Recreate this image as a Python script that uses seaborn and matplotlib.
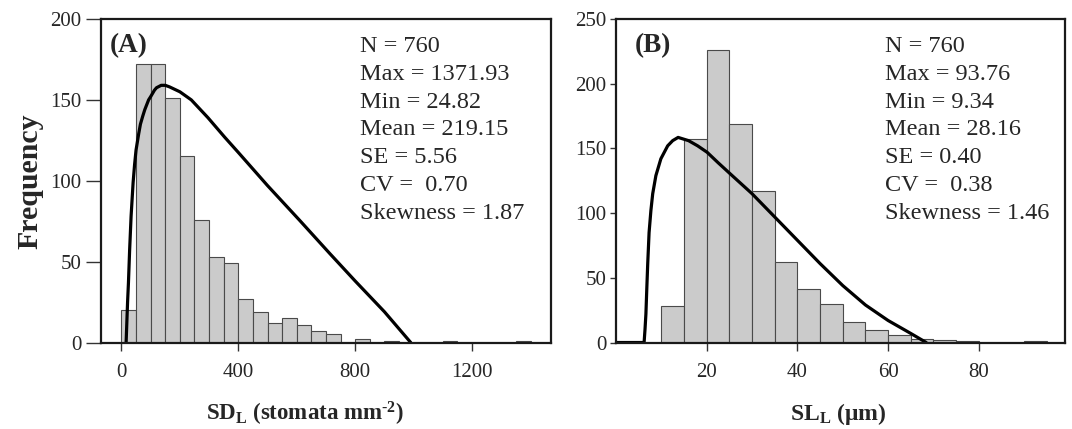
import matplotlib
matplotlib.use("Agg")
import matplotlib.pyplot as plt
import seaborn as sns
import numpy as np

# ---------------- data ----------------
# Panel A: SD_L histogram (bin width 50)
sd_bin_edges = list(range(0, 1450, 50))
sd_counts = [20, 172, 172, 151, 115, 76, 53, 49, 27, 19, 12, 15, 11, 7, 5,
             0, 2, 0, 1, 0, 0, 0, 1, 0, 0, 0, 0, 1]
sd_curve_x = [16, 18, 21, 24, 28, 33, 40, 45, 50, 59, 65, 73, 80, 93, 100,
              113, 120, 136, 150, 165, 200, 239, 296, 353, 400, 500, 610,
              713, 800, 900, 990]
sd_curve_y = [0, 10, 25, 37, 57, 78, 99, 110, 119, 129, 135, 140, 144, 150,
              152, 156, 157.5, 159, 159, 158, 155, 150, 139, 127, 117.5, 97,
              75.5, 55, 38, 19, 0]
sd_stats = ["N = 760", "Max = 1371.93", "Min = 24.82", "Mean = 219.15",
            "SE = 5.56", "CV =  0.70", "Skewness = 1.87"]
sd_xticks = [0, 400, 800, 1200]
sd_yticks = [0, 50, 100, 150, 200]

# Panel B: SL_L histogram (bin width 5)
sl_bin_edges = list(range(0, 100, 5))
sl_counts = [0, 0, 28, 157, 226, 169, 117, 62, 41, 30, 16, 10, 6, 3, 2, 1,
             0, 0, 1]
sl_curve_x = [0, 6.2, 6.4, 6.6, 6.8, 7.0, 7.3, 7.7, 8.1, 8.8, 9.9, 11.4,
              12.5, 13.7, 16, 18, 20.1, 22.5, 25.3, 30, 35, 40, 45, 50, 55,
              60, 65, 68.4]
sl_curve_y = [0, 0, 10, 22, 42, 61, 85, 102, 115, 129, 142, 152, 156,
              158.5, 156, 152, 147, 139, 130, 115, 97, 79, 61, 44, 29, 17,
              7, 0]
sl_stats = ["N = 760", "Max = 93.76", "Min = 9.34", "Mean = 28.16",
            "SE = 0.40", "CV =  0.38", "Skewness = 1.46"]
sl_xticks = [20, 40, 60, 80]
sl_yticks = [0, 50, 100, 150, 200, 250]

# ---------------- style ----------------
sns.set_style("ticks")
plt.rcParams["font.family"] = ["Liberation Serif", "DejaVu Serif"]
plt.rcParams["mathtext.fontset"] = "custom"
plt.rcParams["mathtext.rm"] = "Liberation Serif"
plt.rcParams["mathtext.bf"] = "Liberation Serif:bold"
plt.rcParams["mathtext.it"] = "Liberation Serif:italic"

fig = plt.figure(figsize=(10.72, 4.29), dpi=100)
axA = fig.add_axes([0.0942, 0.2016, 0.4198, 0.7541])
axB = fig.add_axes([0.5746, 0.2016, 0.4189, 0.7541])

bar_face = "#cbcbcb"
bar_edge = "#4a4a4a"


def draw(ax, edges, counts, cx, cy, stats, xticks, yticks, xlim, ylim,
         panel, panel_x, text_x, ylen):
    centers = [(edges[i] + edges[i + 1]) / 2 for i in range(len(counts))]
    sns.histplot(x=centers, weights=counts, bins=edges[:len(counts) + 1],
                 ax=ax, color=bar_face, edgecolor=bar_edge, linewidth=0.8,
                 alpha=1.0)
    sns.lineplot(x=cx, y=cy, ax=ax, color="black", linewidth=2.3,
                 sort=False)
    ax.set_xlim(*xlim)
    ax.set_ylim(*ylim)
    ax.set_xticks(xticks)
    ax.set_yticks(yticks)
    ax.tick_params(axis="x", length=6, width=1, labelsize=15, pad=9,
                   color="#333333")
    ax.tick_params(axis="y", length=ylen, width=1, labelsize=15, pad=3,
                   color="#333333")
    for s in ax.spines.values():
        s.set_visible(True)
        s.set_linewidth(1.6)
        s.set_color("#1a1a1a")
    ax.set_ylabel("")
    ax.set_xlabel("")
    ax.text(panel_x, 0.955, panel, transform=ax.transAxes, fontsize=19.5,
            fontweight="bold", va="top", ha="left")
    ax.text(text_x, 0.948, "\n".join(stats), transform=ax.transAxes,
            fontsize=17.5, va="top", ha="left", linespacing=1.43)


draw(axA, sd_bin_edges, sd_counts, sd_curve_x, sd_curve_y, sd_stats,
     sd_xticks, sd_yticks, (-70, 1470), (0, 200), "(A)", 0.02, 0.576, 11)
draw(axB, sl_bin_edges, sl_counts, sl_curve_x, sl_curve_y, sl_stats,
     sl_xticks, sl_yticks, (0, 99), (0, 250), "(B)", 0.042, 0.599, 4)

axA.set_ylabel("Frequency", fontsize=21.5, fontweight="bold")
axA.yaxis.label.set_va("center")
axA.yaxis.set_label_coords(-0.158, 0.5)
axA.set_xlabel("$\\mathbf{SD_{L}}$ (stomata mm$^{\\mathbf{\u2010}\\mathbf{2}}$)",
               fontsize=16.5, fontweight="bold")
axA.xaxis.set_label_coords(0.453, -0.222)
axB.set_xlabel(r"$\mathbf{SL_{L}}$ ($\mathbf{\mu}$m)", fontsize=17,
               fontweight="bold")
axB.xaxis.set_label_coords(0.494, -0.222)
axA.xaxis.label.set_va("center")
axB.xaxis.label.set_va("center")

fig.savefig("out.png", dpi=100)
